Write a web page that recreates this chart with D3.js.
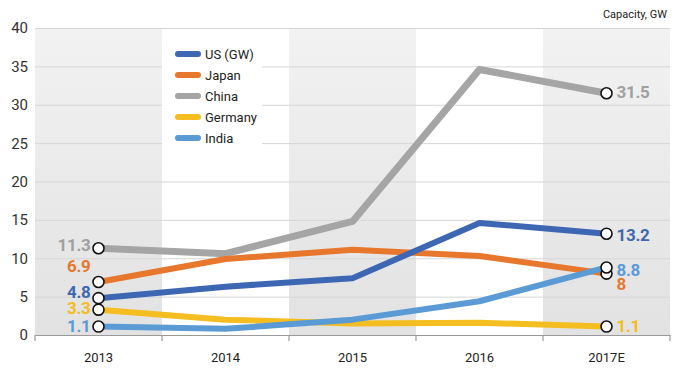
<!DOCTYPE html>
<html>
<head>
<meta charset="utf-8">
<script src="https://cdn.jsdelivr.net/npm/d3@7"></script>
<style>
  body { margin: 0; background: #fff; }
  svg { display: block; }
  text { font-family: Roboto, "Noto Sans", sans-serif; }
</style>
</head>
<body>
<div id="chart"></div>
<script>
var years = ["2013", "2014", "2015", "2016", "2017E"];
var yTicks = [0, 5, 10, 15, 20, 25, 30, 35, 40];

var usVals      = [4.8, 6.3, 7.4, 14.6, 13.2];
var japanVals   = [6.9, 9.9, 11.1, 10.3, 8];
var chinaVals   = [11.3, 10.6, 14.8, 34.6, 31.5];
var germanyVals = [3.3, 2.0, 1.5, 1.6, 1.1];
var indiaVals   = [1.1, 0.8, 2.0, 4.4, 8.8];

var seriesNames  = ["US (GW)", "Japan", "China", "Germany", "India"];
var seriesColors = ["#3e67b3", "#e8772e", "#a5a5a5", "#f4bd20", "#5b9bd5"];

var firstLabels = ["4.8", "6.9", "11.3", "3.3", "1.1"];
var lastLabels  = ["13.2", "8", "31.5", "1.1", "8.8"];
// little nudges so the end labels don't sit on top of each other
var firstDy = [-6, -16, -3, -2, -1];
var lastDy  = [1, 10, -1, -1, 2];

var series = [usVals, japanVals, chinaVals, germanyVals, indiaVals].map(function(v, i) {
  return { name: seriesNames[i], values: v, color: seriesColors[i] };
});

var width = 700, height = 370;
var margin = { top: 28, right: 30, bottom: 35, left: 35 };

var svg = d3.select("#chart").append("svg")
  .attr("width", width)
  .attr("height", height);

var x = d3.scaleBand()
  .domain(years)
  .range([margin.left, width - margin.right])
  .paddingInner(0).paddingOuter(0);

var y = d3.scaleLinear()
  .domain([0, 40])
  .range([height - margin.bottom, margin.top]);

var cx = function(d) { return x(d) + x.bandwidth() / 2; };

var defs = svg.append("defs");
var grad = defs.append("linearGradient")
  .attr("id", "bandGrad")
  .attr("x1", 0).attr("y1", 0).attr("x2", 0).attr("y2", 1);
grad.append("stop").attr("offset", "0%").attr("stop-color", "#f2f2f2");
grad.append("stop").attr("offset", "100%").attr("stop-color", "#e2e2e2");

// alternate shaded columns
svg.append("g").selectAll("rect")
  .data(years.filter(function(d, i) { return i % 2 === 0; }))
  .enter().append("rect")
  .attr("x", function(d) { return x(d); })
  .attr("y", y(40))
  .attr("width", x.bandwidth())
  .attr("height", y(0) - y(40))
  .attr("fill", "url(#bandGrad)");

// gridlines
svg.append("g").selectAll("line")
  .data(yTicks.slice(1))
  .enter().append("line")
  .attr("x1", margin.left)
  .attr("x2", width - margin.right)
  .attr("y1", function(d) { return y(d) + 0.5; })
  .attr("y2", function(d) { return y(d) + 0.5; })
  .attr("stroke", "#d6d6d6")
  .attr("stroke-width", 1);

// y labels
svg.append("g").selectAll("text")
  .data(yTicks)
  .enter().append("text")
  .attr("x", 28)
  .attr("y", function(d) { return y(d); })
  .attr("dy", "0.36em")
  .attr("text-anchor", "end")
  .attr("font-size", 15)
  .attr("fill", "#333")
  .text(function(d) { return d; });

// x axis
var xAxis = d3.axisBottom(x).tickSize(0).tickFormat(function(d) { return d; });
var gx = svg.append("g")
  .attr("transform", "translate(0," + y(0) + ")")
  .call(xAxis);
gx.select(".domain").attr("stroke", "#9a9a9a").attr("stroke-width", 1.2);
gx.selectAll(".tick text")
  .attr("dy", 0)
  .attr("y", 27)
  .attr("font-size", 13)
  .attr("fill", "#222")
  .style("font-family", "Roboto, sans-serif");
gx.selectAll(".sep")
  .data(years.concat(["end"]))
  .enter().append("line")
  .attr("class", "sep")
  .attr("x1", function(d, i) { return i < years.length ? x(d) : x.range()[1]; })
  .attr("x2", function(d, i) { return i < years.length ? x(d) : x.range()[1]; })
  .attr("y1", 0)
  .attr("y2", 6)
  .attr("stroke", "#9a9a9a")
  .attr("stroke-width", 1.2);

// lines
var line = d3.line()
  .x(function(d, i) { return cx(years[i]); })
  .y(function(d) { return y(d); });

var drawOrder = [2, 1, 0, 3, 4];
svg.append("g").selectAll("path")
  .data(drawOrder.map(function(i) { return series[i]; }))
  .enter().append("path")
  .attr("d", function(d) { return line(d.values); })
  .attr("fill", "none")
  .attr("stroke", function(d) { return d.color; })
  .attr("stroke-width", function(d) { return d.name === "China" ? 7 : 6; })
  .attr("stroke-linejoin", "round");

// end markers
var ends = [];
series.forEach(function(s, i) {
  ends.push({ s: s, i: i, idx: 0 });
  ends.push({ s: s, i: i, idx: years.length - 1 });
});

svg.append("g").selectAll("circle")
  .data(ends)
  .enter().append("circle")
  .attr("cx", function(d) { return cx(years[d.idx]); })
  .attr("cy", function(d) { return y(d.s.values[d.idx]); })
  .attr("r", 5.5)
  .attr("fill", "#fff")
  .attr("stroke", "#111")
  .attr("stroke-width", 1.6);

// value labels
svg.append("g").selectAll("text")
  .data(ends)
  .enter().append("text")
  .attr("x", function(d) { return d.idx === 0 ? cx(years[0]) - 8 : cx(years[4]) + 10; })
  .attr("y", function(d) {
    var off = d.idx === 0 ? firstDy[d.i] : lastDy[d.i];
    return y(d.s.values[d.idx]) + off;
  })
  .attr("dy", "0.36em")
  .attr("text-anchor", function(d) { return d.idx === 0 ? "end" : "start"; })
  .attr("font-size", 17)
  .attr("font-weight", "bold")
  .attr("letter-spacing", -0.3)
  .attr("fill", function(d) { return d.s.color === "#a5a5a5" ? "#a0a0a0" : d.s.color; })
  .text(function(d) { return d.idx === 0 ? firstLabels[d.i] : lastLabels[d.i]; });

// legend
var lg = svg.append("g");
lg.append("rect")
  .attr("x", x("2014"))
  .attr("y", 36)
  .attr("width", 100)
  .attr("height", 122)
  .attr("fill", "#fff");

var legendRows = lg.selectAll("g.row")
  .data(series)
  .enter().append("g")
  .attr("class", "row")
  .attr("transform", function(d, i) { return "translate(178," + (54 + i * 21) + ")"; });

legendRows.append("line")
  .attr("x1", 0).attr("x2", 20)
  .attr("y1", 0).attr("y2", 0)
  .attr("stroke", function(d) { return d.color; })
  .attr("stroke-width", 6)
  .attr("stroke-linecap", "round");

legendRows.append("text")
  .attr("x", 27)
  .attr("y", 0)
  .attr("dy", "0.36em")
  .attr("font-size", 13)
  .attr("fill", "#222")
  .text(function(d) { return d.name; });

// unit note
svg.append("text")
  .attr("x", 667)
  .attr("y", 18)
  .attr("text-anchor", "end")
  .attr("font-size", 11)
  .attr("fill", "#222")
  .text("Capacity, GW");
</script>
</body>
</html>
